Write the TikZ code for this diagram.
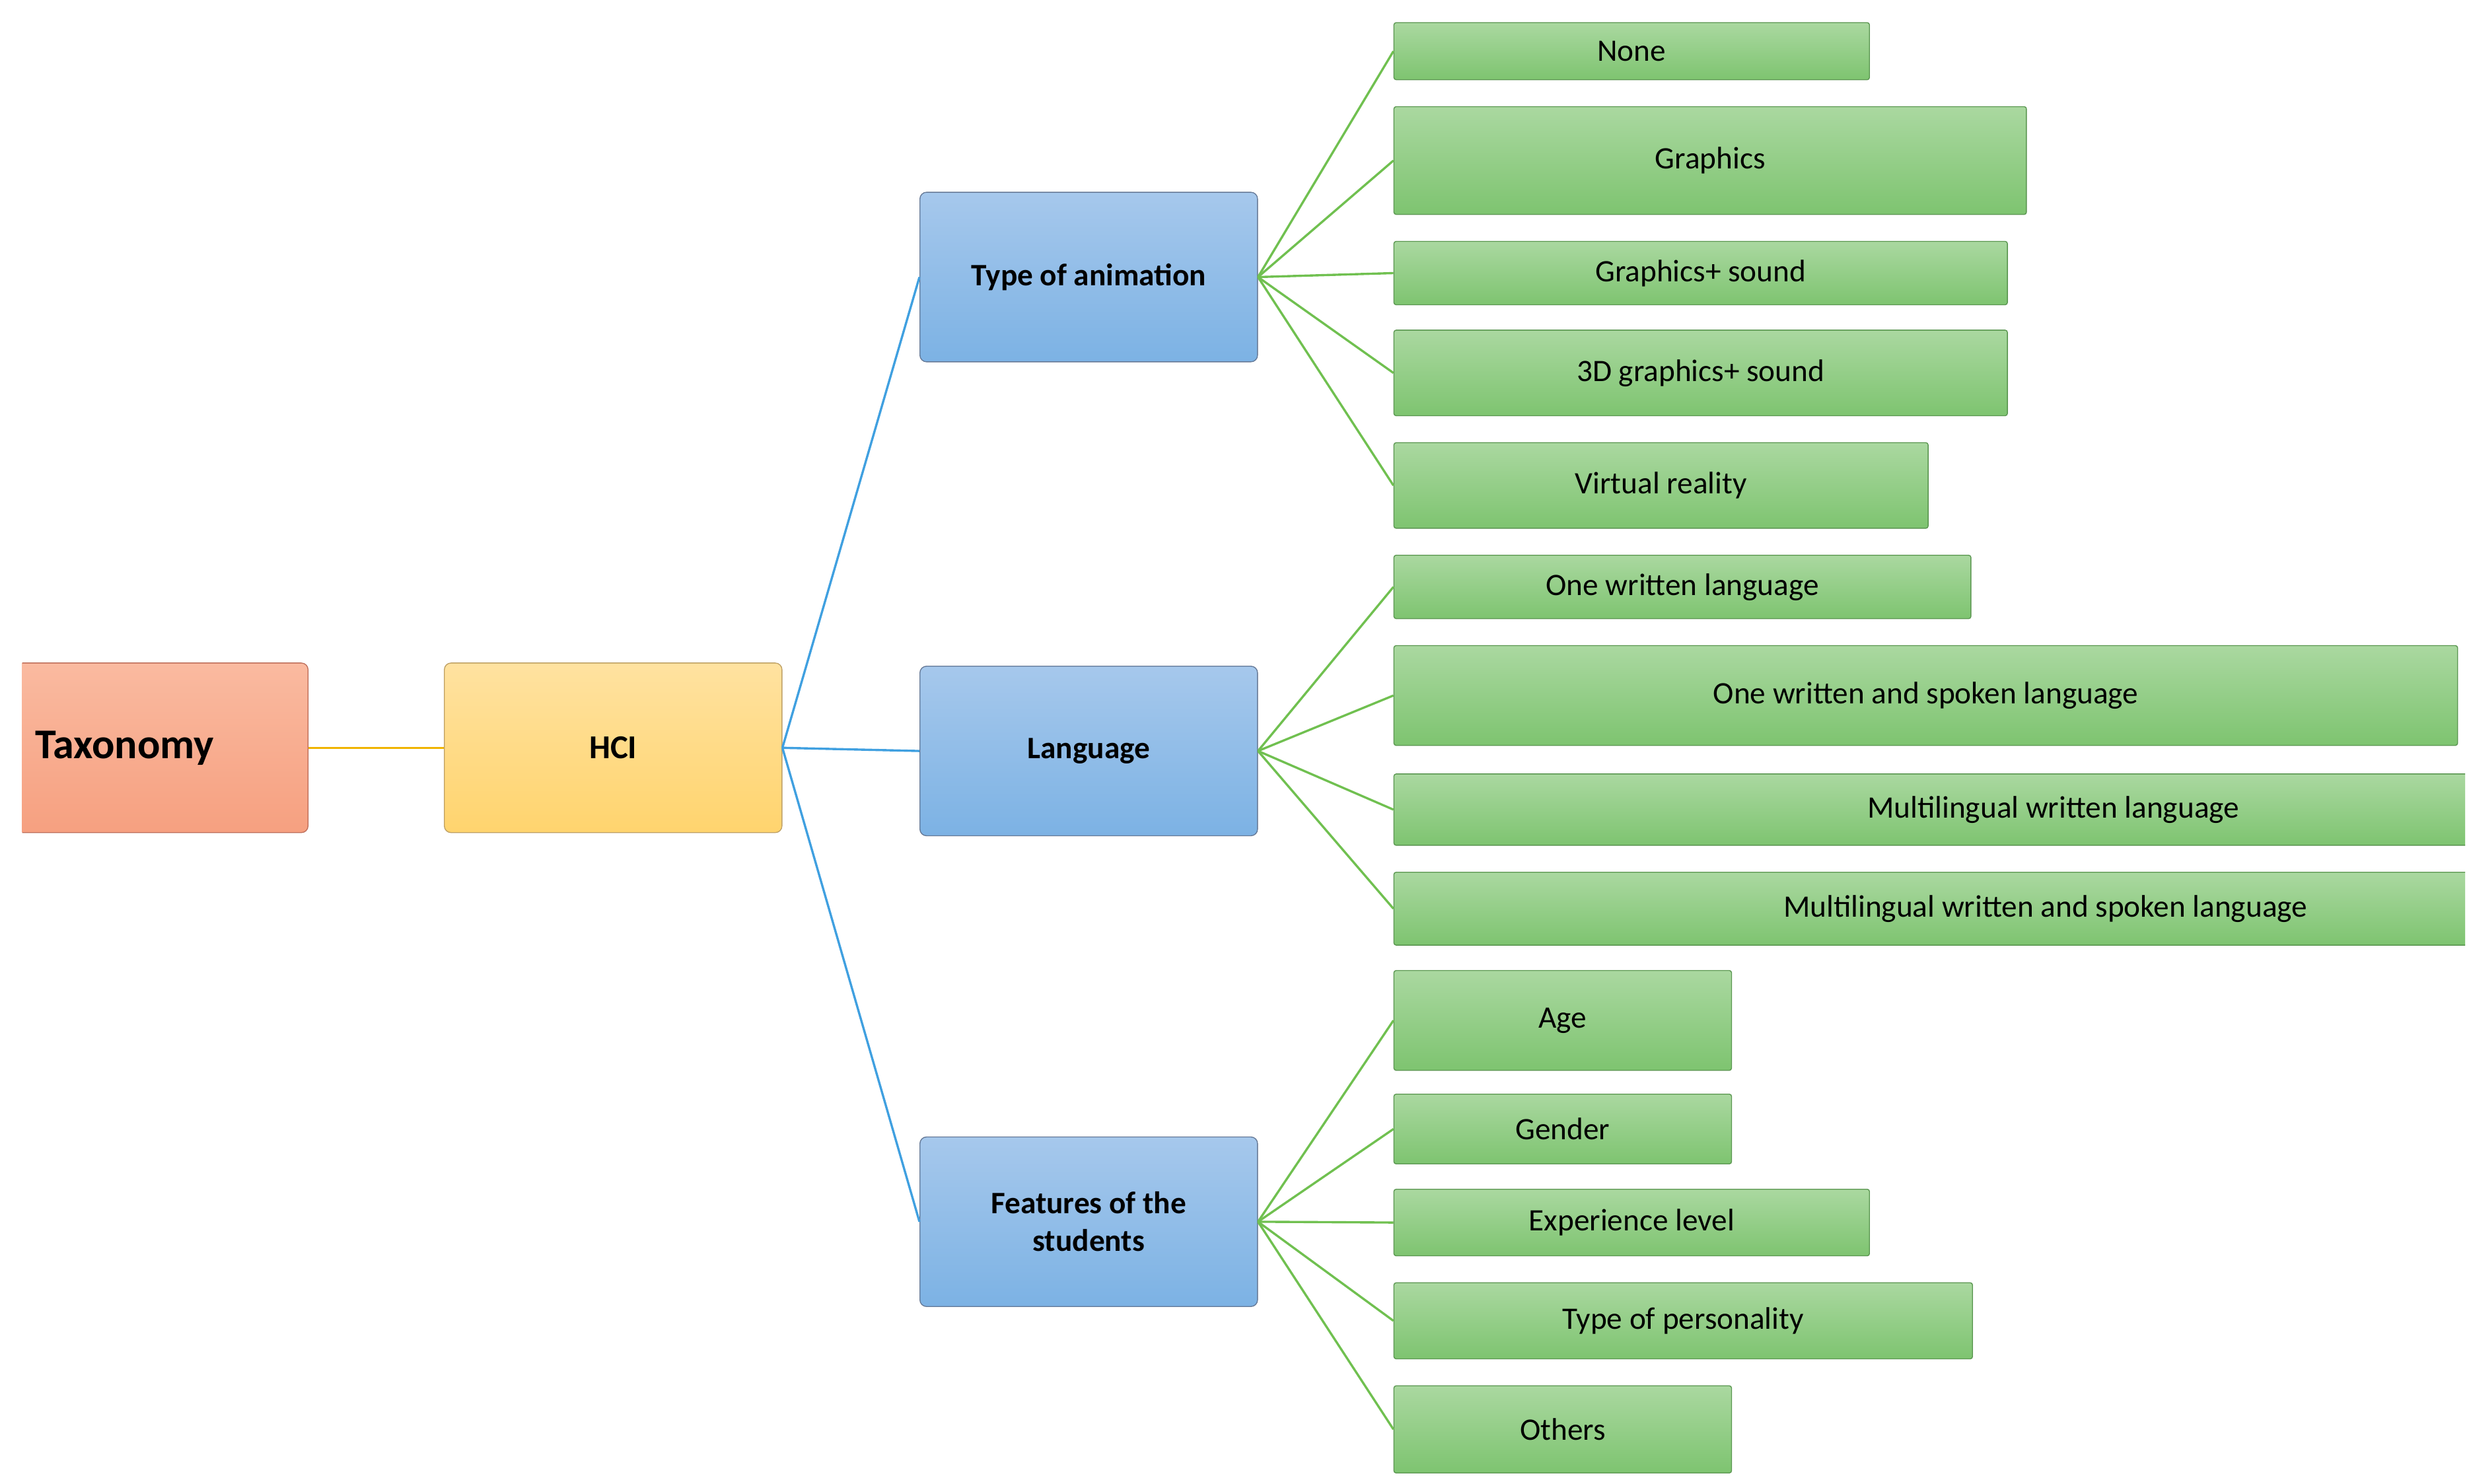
\documentclass[tikz,border=0pt]{standalone}
\usepackage{fontspec}
\setmainfont{Carlito}
\definecolor{gT}{RGB}{170,216,160}\definecolor{gB}{RGB}{126,196,112}\definecolor{gD}{RGB}{90,150,80}
\definecolor{bT}{RGB}{166,200,236}\definecolor{bB}{RGB}{124,178,228}\definecolor{bD}{RGB}{100,120,150}
\definecolor{yT}{RGB}{255,226,160}\definecolor{yB}{RGB}{255,212,110}\definecolor{yD}{RGB}{190,160,100}
\definecolor{rT}{RGB}{250,186,160}\definecolor{rB}{RGB}{246,160,128}\definecolor{rD}{RGB}{190,110,90}
\definecolor{gLn}{RGB}{112,192,80}\definecolor{bLn}{RGB}{64,160,224}\definecolor{oLn}{RGB}{240,180,0}
\begin{document}
\begin{tikzpicture}[x=0.025cm,y=-0.025cm,
 base/.style={draw, rounded corners=3pt, inner sep=0pt, align=center, anchor=north west},
 gbox/.style={base, draw=gD, top color=gT, bottom color=gB, rounded corners=1pt, font=\fontsize{14}{16}\selectfont},
 bbox/.style={base, draw=bD, top color=bT, bottom color=bB, font=\bfseries\fontsize{14}{17}\selectfont},
 gl/.style={draw=gLn, line width=1pt},
 bl/.style={draw=bLn, line width=1pt}]
\newcommand\bx[7]{\node[#2, minimum width={(#5-#3)*0.025cm}, minimum height={(#6-#4)*0.025cm}] (#1) at (#3,#4) {#7};}
\useasboundingbox (0,0) rectangle (1560,936);
\begin{scope}
\clip (14,0) rectangle (1555,936);
\bx{tax}{base, draw=rD, top color=rT, bottom color=rB, text width=4.75cm, align=left, font=\bfseries\fontsize{19}{22}\selectfont}{4}{418}{194}{525}{\hspace*{0.45cm}Taxonomy}
\bx{hci}{base, draw=yD, top color=yT, bottom color=yB, font=\bfseries\fontsize{15}{18}\selectfont}{280}{418}{493}{525}{HCI}
\bx{ta}{bbox}{580}{121}{793}{228}{Type of animation}
\bx{la}{bbox}{580}{420}{793}{527}{Language}
\bx{fe}{bbox}{580}{717}{793}{824}{Features of the\\students}
\bx{a1}{gbox}{879}{14}{1179}{50}{None}
\bx{a2}{gbox}{879}{67}{1278}{135}{Graphics}
\bx{a3}{gbox}{879}{152}{1266}{192}{Graphics+ sound}
\bx{a4}{gbox}{879}{208}{1266}{262}{3D graphics+ sound}
\bx{a5}{gbox}{879}{279}{1216}{333}{Virtual reality}
\bx{l1}{gbox}{879}{350}{1243}{390}{One written language}
\bx{l2}{gbox}{879}{407}{1550}{470}{One written and spoken language}
\bx{l3}{gbox}{879}{488}{1711}{533}{Multilingual written language}
\bx{l4}{gbox}{879}{550}{1701}{596}{Multilingual written and spoken language}
\bx{f1}{gbox}{879}{612}{1092}{675}{Age}
\bx{f2}{gbox}{879}{690}{1092}{734}{Gender}
\bx{f3}{gbox}{879}{750}{1179}{792}{Experience level}
\bx{f4}{gbox}{879}{809}{1244}{857}{Type of personality}
\bx{f5}{gbox}{879}{874}{1092}{929}{Others}
\draw[draw=oLn, line width=1pt] (tax.east) -- (hci.west);
\foreach \p in {ta,la,fe} \draw[bl] (hci.east) -- (\p.west);
\foreach \c in {a1,a2,a3,a4,a5} \draw[gl] (ta.east) -- (\c.west);
\foreach \c in {l1,l2,l3,l4} \draw[gl] (la.east) -- (\c.west);
\foreach \c in {f1,f2,f3,f4,f5} \draw[gl] (fe.east) -- (\c.west);
\end{scope}
\end{tikzpicture}
\end{document}
